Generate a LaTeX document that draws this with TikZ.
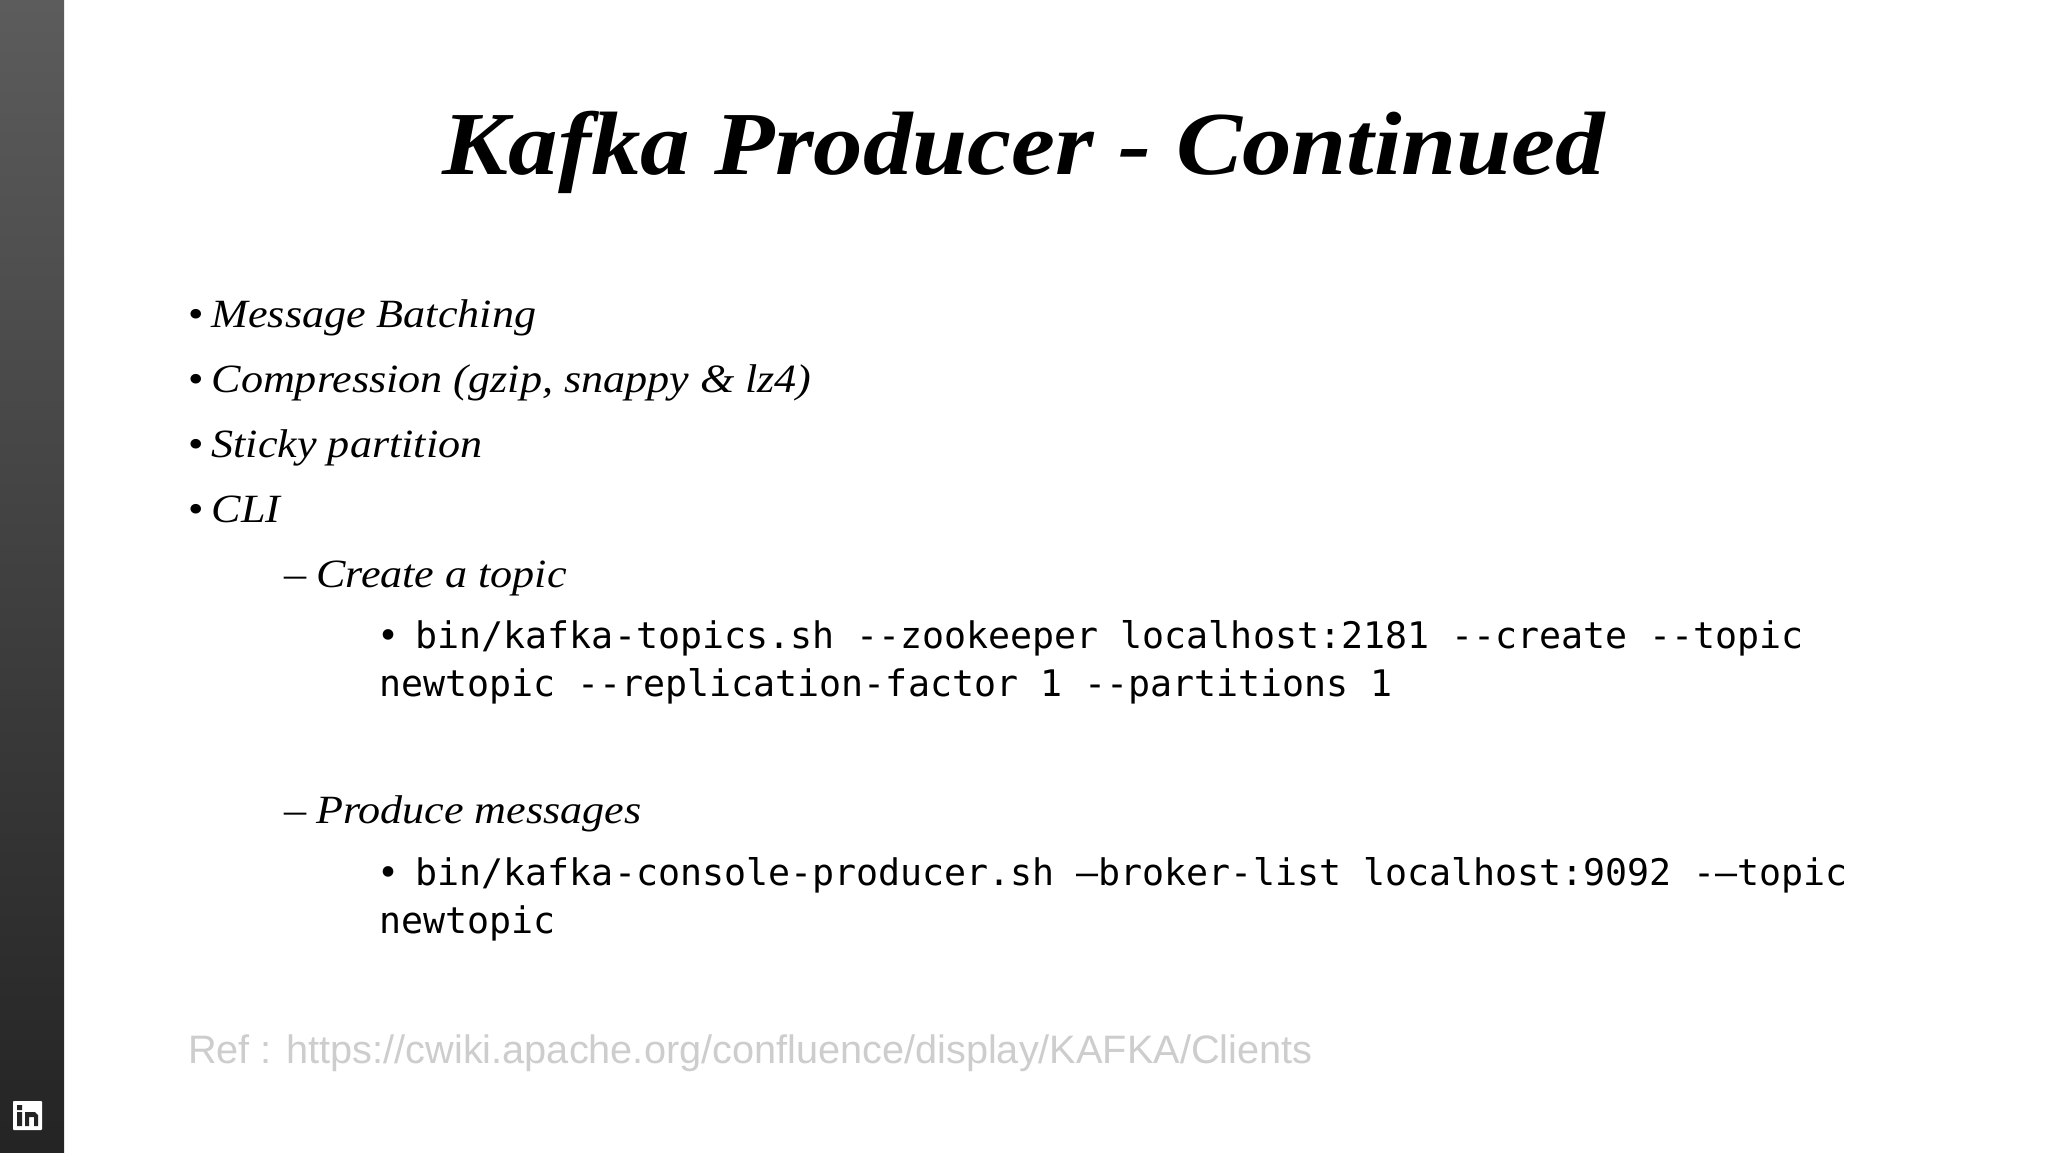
\documentclass[tikz,border=0pt]{standalone}
\usepackage{fontspec}
\setmainfont{Liberation Serif}[FakeStretch=1.1]
\newfontfamily\codefont{DejaVu Sans Mono}
\newfontfamily\arialfont{Liberation Sans}
\definecolor{refgrey}{RGB}{205,205,205}
\definecolor{sidetop}{RGB}{92,92,92}
\definecolor{sidebot}{RGB}{36,36,36}
\newcommand{\itembullet}{\makebox[25pt][l]{\upshape •}}
\newcommand{\itemdash}{\makebox[34pt][l]{\upshape –}}
\newcommand{\codebullet}{\makebox[39pt][l]{\hspace{-1.5pt}•}}
\tikzset{
 px/.style={x=0.0375cm,y=-0.0375cm},
 itemtext/.style={anchor=base west,inner sep=0,font=\fontsize{42.8}{42.8}\selectfont\itshape,text=black},
 codetext/.style={anchor=base west,inner sep=0,font=\codefont\fontsize{39.06}{39.06}\selectfont,text=black},
}
\begin{document}
\begin{tikzpicture}[px]
\useasboundingbox (0,0) rectangle (2048,1152);
\fill[white] (0,0) rectangle (2048,1152);
\shade[top color=sidetop,bottom color=sidebot] (0,0) rectangle (64,1152);
% LinkedIn mark
\fill[white,rounded corners=1] (13,1101) rectangle (42,1130);
\fill[sidebot] (17,1105) rectangle (22,1110) (17,1112) rectangle (22,1126)
 (25,1112) rectangle (29,1126) (29,1112) -- (35,1112) -- (38,1115) -- (38,1126) -- (34,1126) -- (34,1117) -- (29,1117) -- cycle;
\node[anchor=base,inner sep=0,font=\fontsize{96}{96}\selectfont\bfseries\itshape] (title) at (1024,174) {Kafka Producer - Continued};
\node[itemtext] (a) at (188,327.5) {\itembullet Message Batching};
\node[itemtext] (b) at (188,392.5) {\itembullet Compression (gzip, snappy \& lz4)};
\node[itemtext] (c) at (188,457.5) {\itembullet Sticky partition};
\node[itemtext] (d) at (188,522.5) {\itembullet CLI};
\node[itemtext] (e) at (284,587.5) {\itemdash Create a topic};
\node[codetext] (f) at (379,648) {\codebullet bin/kafka-topics.sh --zookeeper localhost:2181 --create --topic};
\node[codetext] (g) at (379,696) {newtopic --replication-factor 1 --partitions 1};
\node[itemtext] (h) at (284,823.5) {\itemdash Produce messages};
\node[codetext] (i) at (379,885) {\codebullet bin/kafka-console-producer.sh –broker-list localhost:9092 -–topic};
\node[codetext] (j) at (379,933) {newtopic};
\node[anchor=base west,inner sep=0,font=\arialfont\fontsize{42.35}{42.35}\selectfont,text=refgrey] (ref) at (188,1063) {Ref : https://cwiki.apache.org/confluence/display/KAFKA/Clients};
\end{tikzpicture}
\end{document}
